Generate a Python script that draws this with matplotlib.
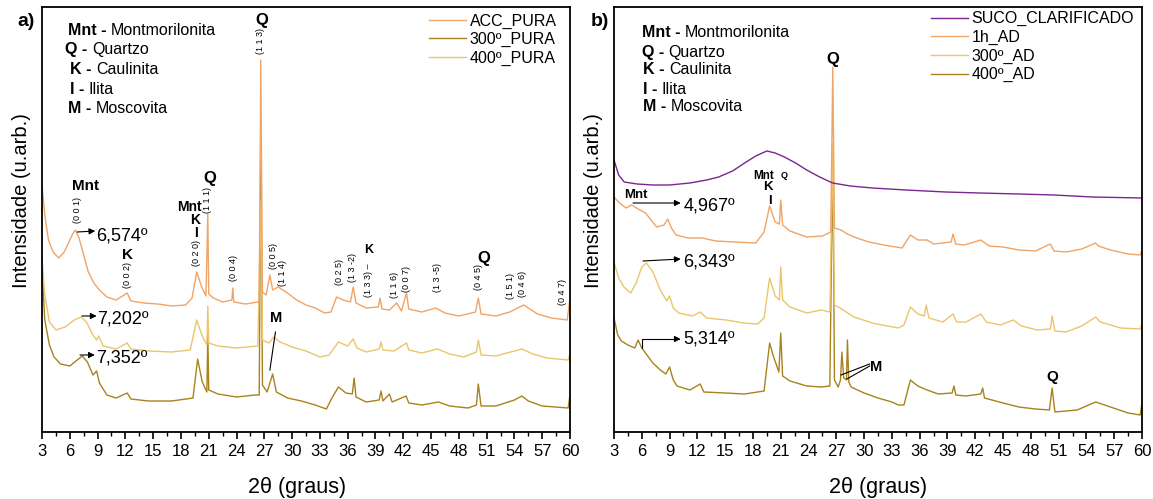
import matplotlib
matplotlib.use("Agg")
import matplotlib.pyplot as plt
from matplotlib.ticker import MultipleLocator

plt.rcParams['font.family'] = ['Liberation Sans', 'DejaVu Sans']

# ---------------- data: 2theta (deg) / intensity (arb. units, stacked as drawn) ----------------
# panel a)
acc_pura_2t = [3.0, 3.3, 3.7, 4.2, 4.8, 5.4, 5.9, 6.3, 6.6, 7.0, 7.5, 8.0, 8.6, 9.2, 10.0, 11.0, 12.2, 12.6,
               14.0, 15.5, 17.0, 18.5, 19.2, 19.7, 20.2, 20.7, 20.9, 21.0, 21.5, 22.5, 23.5, 23.6, 23.7, 25.0,
               26.3, 26.45, 26.62, 26.8, 27.2, 27.6, 27.9, 28.5, 29.5, 30.5, 31.5, 32.5, 33.5, 34.2, 34.8,
               35.5, 36.3, 36.6, 36.9, 38.0, 39.3, 39.5, 39.7, 40.5, 41.3, 41.8, 42.35, 42.6, 44.0, 45.5,
               46.5, 48.0, 49.8, 50.1, 50.4, 52.0, 53.5, 55.0, 55.5, 56.5, 58.0, 59.7, 60.0]
acc_pura_i = [247, 217, 192, 180, 174, 180, 190, 198, 202, 194, 177, 160, 149, 142, 135, 132, 139, 131,
              129, 128, 126, 127, 134, 160, 146, 136, 218, 138, 134, 130, 132, 144, 130, 128,
              130, 132, 372, 140, 137, 157, 142, 145, 139, 132, 127, 124, 119, 120, 135,
              132, 130, 145, 129, 124, 125, 134, 123, 122, 129, 121, 139, 123, 120, 124,
              119, 116, 120, 134, 118, 116, 120, 127, 124, 118, 114, 112, 134]

pura_400_2t = [3.0, 3.3, 3.8, 4.5, 5.5, 6.5, 7.2, 7.8, 8.5, 8.9, 9.1, 9.6, 11.0, 12.2, 12.6, 14.5, 17.0,
               19.0, 19.7, 20.3, 20.8, 20.9, 21.0, 22.0, 24.0, 26.3, 26.62, 26.8, 27.5, 28.0, 28.7, 30.0,
               31.5, 33.0, 34.0, 35.0, 36.0, 36.6, 37.0, 38.0, 39.4, 39.6, 39.8, 41.0, 42.35, 42.6, 44.0,
               45.7, 47.0, 48.5, 49.9, 50.1, 50.4, 52.0, 54.8, 56.0, 57.5, 59.8, 60.0]
pura_400_i = [174, 137, 110, 102, 105, 112, 115, 110, 97, 92, 96, 86, 83, 89, 83, 81, 80,
              82, 112, 96, 87, 126, 89, 86, 84, 86, 232, 92, 89, 95, 90, 85,
              81, 75, 77, 90, 86, 93, 84, 80, 83, 90, 82, 81, 89, 82, 79,
              83, 78, 75, 80, 92, 77, 76, 83, 78, 74, 72, 78]

pura_300_2t = [3.0, 3.3, 3.8, 4.3, 5.0, 6.0, 6.8, 7.35, 7.9, 8.5, 8.9, 9.2, 10.0, 11.0, 12.2, 12.6, 14.5,
               17.0, 19.3, 19.8, 20.3, 20.8, 20.9, 21.0, 22.0, 24.0, 26.0, 26.45, 26.62, 26.8, 27.3, 27.9,
               28.3, 29.5, 31.0, 32.5, 33.7, 34.3, 35.0, 35.8, 36.5, 36.7, 36.9, 38.0, 39.4, 39.6, 39.8,
               40.5, 40.8, 42.3, 42.6, 44.0, 45.8, 47.0, 49.0, 49.9, 50.1, 50.4, 52.0, 54.0, 54.8, 55.5,
               57.0, 59.8, 60.0]
pura_300_i = [164, 112, 87, 75, 68, 66, 72, 76, 70, 57, 61, 49, 37, 34, 39, 33, 31,
              31, 34, 73, 50, 40, 97, 42, 38, 35, 37, 37, 282, 47, 40, 58,
              40, 34, 31, 27, 23, 34, 45, 39, 38, 54, 35, 30, 32, 41, 31,
              38, 30, 36, 29, 27, 30, 26, 24, 27, 48, 26, 26, 32, 36, 31,
              26, 24, 37]

# panel b)
suco_2t = [3.0, 3.5, 4.1, 5.5, 7.2, 9.0, 11.2, 13.0, 14.3, 15.8, 17.1, 18.3, 19.5, 20.4, 21.4, 22.6,
           23.8, 25.2, 26.6, 28.5, 30.9, 34.5, 38.8, 42.5, 46.7, 50.5, 54.6, 60.0]
suco_i = [272, 257, 250, 248, 247, 247, 249, 252, 255, 261, 269, 276, 281, 279, 275, 269,
          262, 255, 249, 246, 244, 242, 240, 239, 238, 237, 235, 234]

ad_1h_2t = [3.0, 3.6, 4.3, 4.9, 5.6, 6.4, 7.0, 7.6, 8.4, 8.8, 9.2, 9.7, 11.0, 12.5, 14.0, 16.0, 18.3,
            19.2, 19.8, 20.4, 20.85, 21.0, 21.2, 22.0, 23.8, 25.5, 26.4, 26.62, 26.8, 27.5, 28.2, 28.9,
            30.5, 32.1, 34.1, 35.0, 35.8, 36.8, 37.5, 39.4, 39.6, 39.9, 40.8, 42.6, 43.5, 45.0, 46.7,
            48.5, 50.1, 50.5, 51.8, 53.5, 55.0, 55.3, 56.6, 58.5, 59.8, 60.0]
ad_1h_i = [235, 229, 224, 227, 223, 219, 212, 205, 207, 213, 204, 197, 194, 194, 191, 190, 189,
           200, 226, 210, 208, 232, 207, 201, 195, 196, 200, 365, 204, 202, 198, 195,
           190, 187, 184, 197, 192, 192, 188, 190, 198, 188, 187, 192, 186, 185, 182,
           181, 188, 181, 180, 183, 189, 186, 182, 178, 177, 182]

ad_300_2t = [3.0, 3.5, 4.07, 4.8, 5.4, 6.0, 6.5, 7.2, 8.0, 8.7, 9.0, 9.4, 10.0, 11.5, 12.3, 13.0, 15.1,
             17.0, 18.5, 19.2, 19.8, 20.4, 20.85, 21.0, 21.2, 22.0, 23.8, 25.4, 26.3, 26.62, 26.8, 27.4,
             28.9, 30.9, 32.5, 33.7, 34.3, 35.0, 35.8, 36.5, 36.7, 37.0, 38.5, 39.6, 40.0, 41.0, 42.6,
             43.2, 44.7, 46.1, 47.0, 48.7, 50.1, 50.3, 50.6, 51.8, 53.5, 55.0, 55.5, 57.7, 59.8, 60.0]
ad_300_i = [170, 154, 145, 139, 149, 165, 169, 160, 142, 131, 136, 124, 119, 116, 120, 114, 112,
            109, 108, 114, 154, 136, 132, 165, 132, 125, 119, 122, 120, 289, 127, 124,
            115, 109, 106, 104, 107, 125, 118, 116, 127, 114, 110, 118, 110, 110, 118,
            110, 107, 112, 106, 102, 103, 116, 101, 100, 106, 115, 110, 104, 103, 108]

ad_400_2t = [3.0, 3.4, 3.8, 4.5, 5.25, 5.6, 6.0, 6.4, 7.2, 8.0, 8.6, 9.0, 9.4, 9.8, 11.2, 12.3, 12.7,
             15.0, 17.1, 19.2, 19.8, 20.2, 20.8, 21.0, 21.2, 22.0, 23.8, 25.4, 26.3, 26.62, 26.8, 27.2,
             27.45, 27.6, 27.8, 28.1, 28.2, 28.35, 28.6, 30.0, 31.5, 33.0, 33.7, 34.3, 35.0, 35.8, 36.8,
             38.0, 39.5, 39.7, 39.9, 41.0, 42.6, 42.8, 43.0, 45.0, 46.7, 48.5, 50.0, 50.3, 50.6, 53.0,
             55.0, 56.6, 58.5, 59.8, 60.0]
ad_400_i = [114, 97, 91, 87, 84, 92, 84, 79, 69, 62, 58, 65, 52, 46, 42, 48, 40,
            39, 38, 41, 89, 76, 60, 99, 56, 51, 46, 45, 46, 282, 52, 45,
            52, 80, 54, 52, 92, 50, 45, 39, 34, 30, 27, 27, 52, 46, 42,
            38, 39, 46, 37, 36, 38, 44, 34, 29, 25, 23, 22, 44, 20, 22,
            30, 25, 19, 17, 29]

ticks_2t = list(range(3, 61, 3))

ORANGE = '#F0A466'
YELLOW = '#EBC56C'
GOLD = '#A7821D'
PURPLE = '#7A2590'

fig = plt.figure(figsize=(11.53, 4.99), dpi=100)
ax_a = fig.add_axes([42 / 1153, 67 / 499, 528 / 1153, 425 / 499])
ax_b = fig.add_axes([614 / 1153, 67 / 499, 528 / 1153, 425 / 499])

for ax in (ax_a, ax_b):
    ax.set_xlim(3, 60)
    ax.set_ylim(0, 425)
    ax.set_xticks(ticks_2t)
    ax.xaxis.set_minor_locator(MultipleLocator(1.5))
    ax.tick_params(axis='x', which='major', direction='out', length=5, width=1.2,
                   labelsize=12, pad=4)
    ax.tick_params(axis='x', which='minor', direction='out', length=3, width=1.0)
    ax.set_yticks([])
    for sp in ax.spines.values():
        sp.set_linewidth(1.3)
    ax.set_xlabel('2θ (graus)', fontsize=15.5)
    ax.set_ylabel('Intensidade (u.arb.)', fontsize=14.5)
    ax.yaxis.set_label_coords(-0.02, 0.544)
ax_a.xaxis.set_label_coords(0.483, -0.105)
ax_b.xaxis.set_label_coords(0.50, -0.105)

leg_kw = dict(loc='upper right', frameon=False, fontsize=11.5, handlelength=2.3,
              handletextpad=0.25, labelspacing=0.22, borderpad=0, borderaxespad=0)

# ---------------- panel a ----------------
l_300, = ax_a.plot(pura_300_2t, pura_300_i, color=GOLD, lw=1.0, label='300º_PURA')
l_400, = ax_a.plot(pura_400_2t, pura_400_i, color=YELLOW, lw=1.0, label='400º_PURA')
l_acc, = ax_a.plot(acc_pura_2t, acc_pura_i, color=ORANGE, lw=1.0, label='ACC_PURA')
ax_a.legend(handles=[l_acc, l_300, l_400], bbox_to_anchor=(0.975, 0.985), **leg_kw)

# ---------------- panel b ----------------
l_400b, = ax_b.plot(ad_400_2t, ad_400_i, color=GOLD, lw=1.0, label='400º_AD')
l_300b, = ax_b.plot(ad_300_2t, ad_300_i, color=YELLOW, lw=1.0, label='300º_AD')
l_1h, = ax_b.plot(ad_1h_2t, ad_1h_i, color=ORANGE, lw=1.0, label='1h_AD')
l_suco, = ax_b.plot(suco_2t, suco_i, color=PURPLE, lw=1.0, label='SUCO_CLARIFICADO')
ax_b.legend(handles=[l_suco, l_1h, l_300b, l_400b], bbox_to_anchor=(0.985, 0.99), **leg_kw)


# ---------------- phase keys ----------------
def key(ax, x, y, abbr, name):
    t = ax.text(x, y, abbr + ' - ', transform=ax.transAxes, fontsize=11.5,
                fontweight='bold', ha='left', va='center')
    ax.annotate(name, xy=(1, 0), xycoords=t, fontsize=11.5, ha='left', va='bottom')


key_rows = [('Mnt', 'Montmorilonita'), ('Q', 'Quartzo'), ('K', 'Caulinita'),
            ('I', 'Ilita'), ('M', 'Moscovita')]
key_a_pos = [(0.049, 0.944), (0.044, 0.899), (0.053, 0.852), (0.053, 0.807), (0.049, 0.762)]
key_b_pos = [(0.053, 0.939), (0.053, 0.892), (0.055, 0.852), (0.055, 0.805), (0.055, 0.765)]
for (abbr, name), pa, pb in zip(key_rows, key_a_pos, key_b_pos):
    key(ax_a, pa[0], pa[1], abbr, name)
    key(ax_b, pb[0], pb[1], abbr, name)


def bold(ax, s, x, y, fs=11):
    ax.text(x, y, s, fontsize=fs, fontweight='bold', ha='center', va='center')


def hkl(ax, s, x, y):
    ax.text(x, y, s, fontsize=6.5, rotation=90, ha='center', va='center')


def arrow(ax, tail, head, conn='arc3'):
    ax.annotate('', xy=head, xytext=tail,
                arrowprops=dict(arrowstyle='-|>', color='black', lw=0.8,
                                mutation_scale=9, shrinkA=0, shrinkB=0,
                                connectionstyle=conn))


# panel a annotations
bold(ax_a, 'Mnt', 7.7, 246)
bold(ax_a, 'K', 12.28, 177)
bold(ax_a, 'Mnt', 18.9, 225, 10)
bold(ax_a, 'K', 19.5, 212, 10)
bold(ax_a, 'I', 19.6, 199, 10)
bold(ax_a, 'Q', 21.14, 253, 12)
bold(ax_a, 'Q', 26.75, 412, 12)
bold(ax_a, 'K', 38.3, 182, 9)
bold(ax_a, 'Q', 50.7, 174, 12)
bold(ax_a, 'M', 28.26, 114, 10.5)
ax_a.plot([27.6, 28.2], [62, 100], color='black', lw=0.8)

for s, x, y in [('(0 0 1)', 6.78, 222), ('(0 0 2)', 12.28, 157), ('(0 2 0)', 19.73, 179),
                ('(1 1 1)', 20.9, 232), ('(1 1 3)', 26.64, 391), ('(0 0 4)', 23.62, 164),
                ('(0 0 5)', 27.94, 176), ('(1 1 4)', 29.0, 159), ('(0 2 5)', 35.17, 160),
                ('(1 3 -2)', 36.57, 165), ('(1 3 3) –', 38.3, 152), ('(1 1 6)', 41.1, 147),
                ('(0 0 7)', 42.3, 153), ('(1 3 -5)', 45.75, 154), ('(0 4 5)', 50.07, 155),
                ('(1 5 1)', 53.6, 146), ('(0 4 6)', 54.9, 148), ('(0 4 7)', 59.2, 140)]:
    hkl(ax_a, s, x, y)

for tail, head, txt, ty in [((6.8, 200), (8.75, 201), '6,574º', 196),
                            ((7.3, 116), (8.9, 116), '7,202º', 113),
                            ((7.1, 77), (8.7, 77), '7,352º', 74)]:
    arrow(ax_a, tail, head)
    ax_a.text(head[0] + 0.1, ty, txt, fontsize=13, ha='left', va='center')

# panel b annotations
bold(ax_b, 'Mnt', 5.37, 237, 9.5)
bold(ax_b, 'Mnt', 19.2, 256, 8.5)
bold(ax_b, 'Q', 21.4, 257, 6.5)
bold(ax_b, 'K', 19.6, 245, 9.5)
bold(ax_b, 'I', 19.8, 231, 9.5)
bold(ax_b, 'Q', 26.64, 373, 12)
bold(ax_b, 'M', 31.3, 65, 10.5)
bold(ax_b, 'Q', 50.3, 55, 11)
ax_b.plot([30.6, 27.5], [68, 57], color='black', lw=0.8)
ax_b.plot([30.6, 28.15], [66, 53], color='black', lw=0.8)

arrow(ax_b, (5.05, 229), (10.2, 229))
ax_b.text(10.5, 226, '4,967º', fontsize=13, ha='left', va='center')
arrow(ax_b, (6.13, 171), (10.2, 173))
ax_b.text(10.5, 170, '6,343º', fontsize=13, ha='left', va='center')
arrow(ax_b, (6.0, 84), (10.2, 93), conn='angle,angleA=90,angleB=0,rad=0')
ax_b.text(10.5, 93, '5,314º', fontsize=13, ha='left', va='center')

fig.text(26 / 1153, 1 - 22 / 499, 'a)', fontsize=14, fontweight='bold', ha='center', va='center')
fig.text(600 / 1153, 1 - 22 / 499, 'b)', fontsize=14, fontweight='bold', ha='center', va='center')

fig.savefig('out.png', dpi=100)
